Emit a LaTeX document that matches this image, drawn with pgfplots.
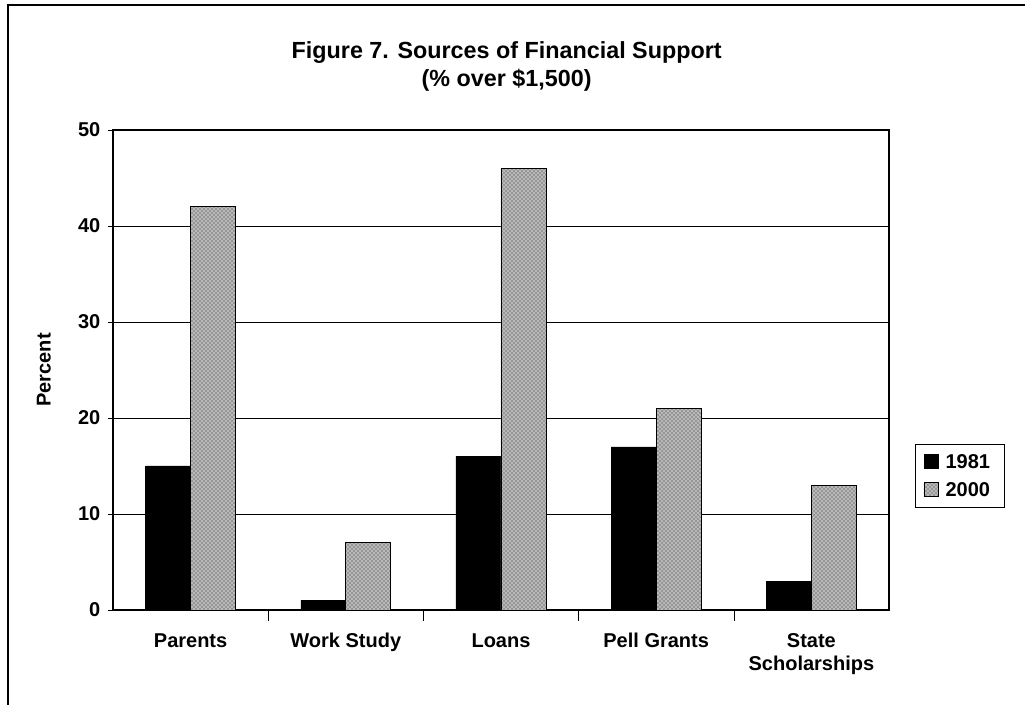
\documentclass[border=0pt]{standalone}
\usepackage{pgfplots}
\pgfplotsset{compat=1.18}
\usetikzlibrary{patterns}
\usepackage{fontspec}
\setmainfont{Liberation Sans}
\begin{document}
\begin{tikzpicture}
\useasboundingbox (0,0) rectangle (768.75pt,528.75pt);
\draw[line width=1.5pt] (6pt,0) -- (6pt,525pt) -- (768.75pt,525pt);
\node[font=\fontsize{17.5}{21}\selectfont\bfseries, align=center] at (380pt,479pt) {Figure 7. Sources of Financial Support\\(\% over \$1,500)};
\begin{axis}[
  at={(84.75pt,71.25pt)}, anchor=south west,
  scale only axis, width=582pt, height=360pt,
  xmin=-0.5, xmax=4.5, ymin=0, ymax=50,
  ybar=0pt, bar width=0.29,
  xtick={0,1,2,3,4},
  xticklabels={Parents,Work Study,Loans,Pell Grants,{State\\Scholarships}},
  major x tick style={draw=none},
  minor xtick={0.5,1.5,2.5,3.5},
  minor x tick style={black, thin},
  minor tick length=8pt,
  xtick align=outside,
  xtick pos=bottom, ytick pos=left,
  ytick={0,10,...,50},
  ytick align=center,
  major tick length=8pt,
  ymajorgrids, grid style={black, line width=0.6pt},
  axis line style={black, line width=0.8pt},
  tick style={black},
  xticklabel style={font=\fontsize{15}{17}\selectfont\bfseries, align=center, yshift=-6pt},
  yticklabel style={font=\fontsize{15}{17}\selectfont\bfseries, xshift=-2pt},
  /pgf/number format/assume math mode=true,
  ylabel={Percent},
  ylabel style={font=\fontsize{15}{17}\selectfont\bfseries, at={(axis description cs:-0.074,0.5)}},
  legend style={at={(1.0335,0.279)}, anchor=west, draw=black, line width=0.8pt,
    font=\fontsize{15}{17}\selectfont\bfseries, row sep=5pt, inner xsep=6pt, inner ysep=5pt,
    nodes={inner xsep=5pt}},
  legend image code/.code={\draw[#1, line width=0.5pt] (0pt,-5pt) rectangle (11pt,6pt);},
]
\addplot[fill=black, draw=black] coordinates {(0,15) (1,1) (2,16) (3,17) (4,3)};
\addplot[fill=gray!55, draw=black, line width=0.6pt, postaction={pattern=crosshatch dots, pattern color=black!85}] coordinates {(0,42) (1,7) (2,46) (3,21) (4,13)};
\legend{1981,2000}
\end{axis}
\end{tikzpicture}
\end{document}
